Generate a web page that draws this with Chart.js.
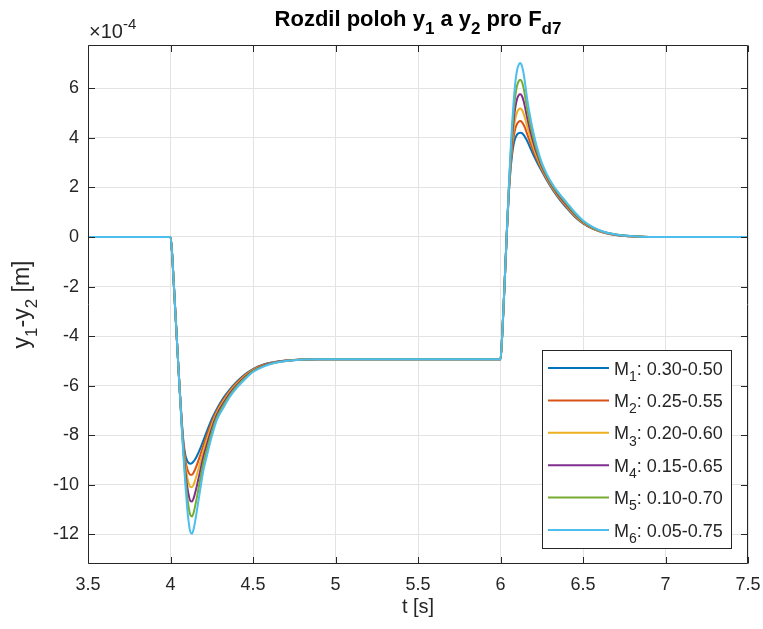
<!DOCTYPE html>
<html>
<head>
<meta charset="utf-8">
<script src="https://cdn.jsdelivr.net/npm/chart.js@4.4.0/dist/chart.umd.min.js"></script>
<style>
html, body { margin: 0; padding: 0; background: #fff; }
#wrap { width: 763px; height: 629px; }
</style>
</head>
<body>
<div id="wrap"><canvas id="graf" width="763" height="629"></canvas></div>
<script>
//CAS [s]
const cas = [3.5, 4.0, 4.01, 4.02, 4.03, 4.04, 4.05, 4.06, 4.07, 4.08, 4.09, 4.10, 4.11, 4.12, 4.13, 4.14, 4.15, 4.16,
    4.18, 4.20, 4.22, 4.25, 4.28, 4.32, 4.36, 4.40, 4.45, 4.50, 4.56, 4.63, 4.70, 4.80, 4.90,
    6.0, 6.01, 6.02, 6.03, 6.04, 6.05, 6.06, 6.07, 6.08, 6.09, 6.10, 6.11, 6.12, 6.13, 6.14, 6.15, 6.16,
    6.18, 6.20, 6.22, 6.25, 6.28, 6.32, 6.36, 6.40, 6.45, 6.50, 6.56, 6.63, 6.70, 6.80, 6.90, 7.5];

//ROZDIL y1-y2 [x1e-4 m]
const m1 = [0, 0, -0.7, -1.9, -3.1, -4.3, -5.5, -6.6, -7.6, -8.35, -8.8, -9.02, -9.12, -9.15, -9.13, -9.06, -8.96, -8.84,
    -8.54, -8.2, -7.85, -7.35, -6.95, -6.5, -6.15, -5.85, -5.55, -5.33, -5.16, -5.05, -4.99, -4.95, -4.93,
    -4.93, -4.0, -2.6, -1.1, 0.4, 1.7, 2.65, 3.3, 3.75, 4.0, 4.13, 4.19, 4.21, 4.19, 4.12, 4.02, 3.9,
    3.6, 3.31, 3.04, 2.66, 2.3, 1.87, 1.5, 1.18, 0.82, 0.55, 0.33, 0.17, 0.08, 0.02, 0, 0];
const m2 = [0, 0, -0.7, -1.9, -3.1, -4.3, -5.5, -6.62, -7.65, -8.46, -9.0, -9.32, -9.51, -9.60, -9.60, -9.51, -9.37, -9.20,
    -8.81, -8.40, -8.02, -7.47, -7.02, -6.57, -6.20, -5.89, -5.58, -5.35, -5.17, -5.06, -4.99, -4.95, -4.93,
    -4.93, -4.0, -2.6, -1.1, 0.41, 1.74, 2.77, 3.51, 4.04, 4.38, 4.56, 4.65, 4.68, 4.64, 4.53, 4.38, 4.19,
    3.81, 3.46, 3.14, 2.72, 2.34, 1.91, 1.54, 1.22, 0.85, 0.57, 0.34, 0.17, 0.08, 0.02, 0, 0];
const m3 = [0, 0, -0.7, -1.9, -3.1, -4.3, -5.5, -6.63, -7.70, -8.57, -9.21, -9.64, -9.93, -10.09, -10.10, -10.0, -9.81, -9.59,
    -9.10, -8.61, -8.19, -7.59, -7.10, -6.64, -6.25, -5.94, -5.62, -5.37, -5.19, -5.06, -5.0, -4.95, -4.93,
    -4.93, -4.0, -2.6, -1.1, 0.42, 1.79, 2.89, 3.74, 4.36, 4.78, 5.03, 5.15, 5.19, 5.13, 4.98, 4.76, 4.51,
    4.04, 3.62, 3.25, 2.78, 2.39, 1.94, 1.58, 1.26, 0.88, 0.59, 0.35, 0.18, 0.09, 0.02, 0, 0];
const m4 = [0, 0, -0.7, -1.9, -3.1, -4.3, -5.5, -6.65, -7.76, -8.70, -9.45, -10.02, -10.41, -10.65, -10.68, -10.55, -10.31, -10.04,
    -9.44, -8.85, -8.39, -7.73, -7.19, -6.72, -6.31, -5.99, -5.66, -5.40, -5.20, -5.07, -5.0, -4.95, -4.93,
    -4.93, -4.0, -2.6, -1.1, 0.43, 1.84, 3.04, 3.99, 4.72, 5.24, 5.56, 5.72, 5.76, 5.69, 5.49, 5.20, 4.87,
    4.29, 3.80, 3.38, 2.85, 2.44, 1.99, 1.62, 1.30, 0.92, 0.62, 0.37, 0.19, 0.09, 0.03, 0, 0];
const m5 = [0, 0, -0.7, -1.9, -3.1, -4.3, -5.5, -6.68, -7.83, -8.84, -9.70, -10.40, -10.91, -11.22, -11.28, -11.13, -10.84, -10.51,
    -9.79, -9.10, -8.60, -7.88, -7.29, -6.80, -6.38, -6.04, -5.70, -5.42, -5.22, -5.08, -5.01, -4.95, -4.93,
    -4.93, -4.0, -2.6, -1.1, 0.44, 1.89, 3.18, 4.25, 5.08, 5.71, 6.10, 6.29, 6.35, 6.26, 6.01, 5.64, 5.23,
    4.55, 3.99, 3.50, 2.92, 2.49, 2.03, 1.67, 1.35, 0.96, 0.64, 0.38, 0.19, 0.10, 0.03, 0, 0];
const m6 = [0, 0, -0.7, -1.9, -3.1, -4.3, -5.5, -6.7, -7.9, -9.0, -10.0, -10.85, -11.5, -11.9, -11.98, -11.8, -11.45, -11.05,
    -10.2, -9.4, -8.85, -8.05, -7.4, -6.9, -6.45, -6.1, -5.75, -5.45, -5.24, -5.09, -5.01, -4.95, -4.93,
    -4.93, -4.0, -2.6, -1.1, 0.45, 1.95, 3.35, 4.55, 5.5, 6.25, 6.72, 6.95, 7.02, 6.9, 6.6, 6.15, 5.65,
    4.85, 4.2, 3.65, 3.0, 2.55, 2.08, 1.72, 1.4, 1.0, 0.67, 0.4, 0.2, 0.1, 0.03, 0, 0];

const serie = [m1, m2, m3, m4, m5, m6];
const nazvy = ['M_1: 0.30-0.50', 'M_2: 0.25-0.55', 'M_3: 0.20-0.60', 'M_4: 0.15-0.65', 'M_5: 0.10-0.70', 'M_6: 0.05-0.75'];
const barvy = ['#0072BD', '#D95319', '#EDB120', '#7E2F8E', '#77AC30', '#4DBEEE'];

//OSY
const xTicks = [3.5, 4, 4.5, 5, 5.5, 6, 6.5, 7, 7.5];
const yTicks = [-12, -10, -8, -6, -4, -2, 0, 2, 4, 6];

const PISMO = '"Liberation Sans", Arial, Helvetica, sans-serif';
const TEXT = '#262626';

// rozdeli retezec s _ a ^ (jako TeX v MATLABu) na kusy
function rozloz(s) {
    const kusy = [];
    let i = 0, buf = '';
    while (i < s.length) {
        const c = s[i];
        if (c === '_' || c === '^') {
            if (buf) { kusy.push({ t: buf, m: 0 }); buf = ''; }
            let t;
            if (s[i + 1] === '{') {
                const j = s.indexOf('}', i);
                t = s.slice(i + 2, j);
                i = j + 1;
            } else {
                t = s[i + 1];
                i += 2;
            }
            kusy.push({ t: t, m: c === '_' ? -1 : 1 });
        } else {
            buf += c;
            i++;
        }
    }
    if (buf) kusy.push({ t: buf, m: 0 });
    return kusy;
}

function napis(ctx, s, x, y, size, align, bold) {
    const b = bold ? 'bold ' : '';
    const kusy = rozloz(s);
    const fnt = k => b + (k.m ? Math.round(size * 0.75) : size) + 'px ' + PISMO;
    let w = 0;
    kusy.forEach(k => { ctx.font = fnt(k); k.w = ctx.measureText(k.t).width; w += k.w; });
    let cx = align === 'center' ? x - w / 2 : (align === 'right' ? x - w : x);
    ctx.textAlign = 'left';
    ctx.textBaseline = 'alphabetic';
    kusy.forEach(k => {
        ctx.font = fnt(k);
        const dy = k.m < 0 ? size * 0.35 : (k.m > 0 ? -size * 0.45 : 0);
        ctx.fillText(k.t, cx, y + dy);
        cx += k.w;
    });
}

//RAMECEK, POPISKY A LEGENDA
const popisky = {
    id: 'popisky',
    afterDraw(chart) {
        const ctx = chart.ctx;
        const a = chart.chartArea;
        const sx = chart.scales.x, sy = chart.scales.y;
        const L = Math.round(a.left) + 0.5, R = Math.round(a.right) - 0.5;
        const T = Math.round(a.top) + 0.5, B = Math.round(a.bottom) - 0.5;
        ctx.save();
        ctx.strokeStyle = TEXT;
        ctx.lineWidth = 1;
        ctx.beginPath();
        ctx.moveTo(L, T); ctx.lineTo(R, T); ctx.lineTo(R, B); ctx.lineTo(L, B); ctx.closePath();
        // ticky dovnitr
        const tl = 6.5;
        xTicks.forEach(v => {
            const px = Math.round(sx.getPixelForValue(v)) + 0.5;
            ctx.moveTo(px, B); ctx.lineTo(px, B - tl);
            ctx.moveTo(px, T); ctx.lineTo(px, T + tl);
        });
        yTicks.forEach(v => {
            const py = Math.round(sy.getPixelForValue(v)) + 0.5;
            ctx.moveTo(L, py); ctx.lineTo(L + tl, py);
            ctx.moveTo(R, py); ctx.lineTo(R - tl, py);
        });
        ctx.stroke();

        ctx.fillStyle = '#000';
        napis(ctx, 'Rozdil poloh y_1 a y_2 pro F_{d7}', (a.left + a.right) / 2, 26, 22, 'center', true);
        ctx.fillStyle = TEXT;
        napis(ctx, '\u00d710^{-4}', a.left + 1, 38, 20, 'left', false);
        napis(ctx, 't [s]', (a.left + a.right) / 2, 613, 20, 'center', false);
        ctx.save();
        ctx.translate(29, (a.top + a.bottom) / 2);
        ctx.rotate(-Math.PI / 2);
        napis(ctx, 'y_1-y_2 [m]', 0, 0, 23, 'center', false);
        ctx.restore();

        // legenda
        const lx = 542.5, ly = 350.5, lw = 189, lh = 198;
        ctx.fillStyle = '#fff';
        ctx.fillRect(lx, ly, lw, lh);
        ctx.strokeStyle = TEXT;
        ctx.strokeRect(lx, ly, lw, lh);
        nazvy.forEach((n, i) => {
            const ry = 368 + i * 32.4;
            ctx.strokeStyle = barvy[i];
            ctx.lineWidth = 2;
            ctx.beginPath();
            ctx.moveTo(548, ry); ctx.lineTo(609, ry);
            ctx.stroke();
            ctx.fillStyle = TEXT;
            napis(ctx, n, 614, ry + 6.5, 18, 'left', false);
        });
        ctx.restore();
    }
};

const graf = document.getElementById('graf').getContext('2d');
new Chart(graf, {
    type: 'line',
    plugins: [popisky],
    data: {
        datasets: serie.map((s, i) => ({
            label: nazvy[i],
            data: cas.map((t, j) => ({ x: t, y: s[j] })),
            borderColor: barvy[i],
            backgroundColor: barvy[i],
            borderWidth: 2,
            pointRadius: 0,
            fill: false,
            cubicInterpolationMode: 'monotone',
            order: 6 - i,
        })),
    },
    options: {
        responsive: false,
        animation: false,
        layout: { padding: { left: 0, right: 15, top: 45, bottom: 0 } },
        plugins: {
            legend: { display: false },
            title: { display: false },
            tooltip: { enabled: false },
        },
        scales: {
            x: {
                type: 'linear',
                min: 3.5,
                max: 7.5,
                afterBuildTicks: s => { s.ticks = xTicks.map(v => ({ value: v })); },
                afterFit: s => { s.height = 65; s.paddingLeft = 0; s.paddingRight = 0; },
                ticks: {
                    padding: 10,
                    color: TEXT,
                    font: { family: PISMO, size: 18 },
                    maxRotation: 0,
                    callback: v => String(v),
                },
                grid: { color: '#e3e3e3', drawTicks: false },
                border: { display: false },
            },
            y: {
                type: 'linear',
                min: -13.2,
                max: 7.75,
                afterBuildTicks: s => { s.ticks = yTicks.map(v => ({ value: v })); },
                afterFit: s => { s.width = 88; s.paddingTop = 0; s.paddingBottom = 0; },
                ticks: {
                    padding: 9,
                    color: TEXT,
                    font: { family: PISMO, size: 18 },
                    callback: v => String(v),
                },
                grid: { color: '#e3e3e3', drawTicks: false },
                border: { display: false },
            },
        },
    },
});
</script>
</body>
</html>
